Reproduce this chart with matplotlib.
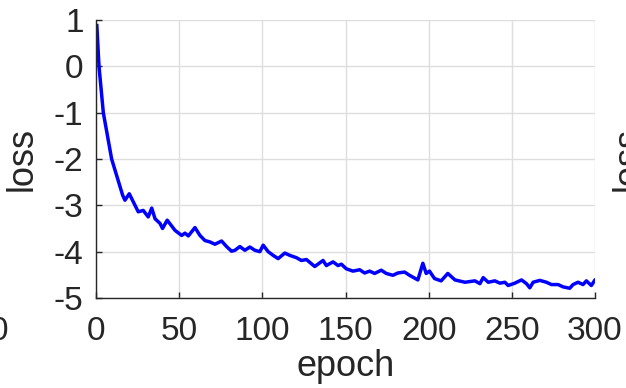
import matplotlib.pyplot as plt

plt.rcParams['font.family'] = ['Liberation Sans', 'DejaVu Sans']
plt.rcParams['axes.unicode_minus'] = False

# loss curve
epoch = [0.5, 1.8, 4.4, 9.4, 16, 17.4, 20, 25.4, 28.4, 31.4, 33.5, 35.5, 38.5,
         40, 42.8, 47.5, 51.5, 53.5, 55.5, 59.5, 62.5, 65.5, 68.5, 71.5, 75.5,
         78.5, 81.5, 83.5, 86.5, 89.5, 92.5, 95.5, 98.5, 100.5, 103.5, 106.5,
         109.5, 113.5, 116.5, 120.5, 123.5, 126.5, 131.5, 136.5, 138.5, 142.5,
         145.5, 147.5, 150.5, 154.5, 158.5, 161.5, 164.5, 167.5, 171.5, 174.5,
         178.5, 181.5, 185.5, 188.5, 193.5, 196.5, 198.5, 200.5, 203.5, 207.5,
         211.5, 215.8, 221.8, 227.8, 230.8, 232.8, 235.8, 239.8, 242.8, 245.8,
         247.8, 251.8, 255.8, 258.8, 260.8, 262.8, 266.8, 270.8, 273.8, 277.8,
         280.8, 284.8, 286.8, 289.8, 292.8, 294.8, 297.8, 299.8]
loss = [0.88, 0.0, -1.0, -2.0, -2.78, -2.89, -2.75, -3.14, -3.11, -3.25, -3.06,
        -3.29, -3.39, -3.5, -3.32, -3.54, -3.65, -3.6, -3.66, -3.48, -3.65,
        -3.76, -3.79, -3.84, -3.77, -3.89, -3.99, -3.97, -3.89, -3.97, -3.9,
        -3.97, -4.0, -3.86, -4.0, -4.08, -4.15, -4.03, -4.08, -4.13, -4.19,
        -4.17, -4.32, -4.19, -4.3, -4.22, -4.3, -4.27, -4.37, -4.42, -4.39,
        -4.46, -4.42, -4.47, -4.4, -4.47, -4.51, -4.46, -4.44, -4.51, -4.61,
        -4.25, -4.47, -4.42, -4.58, -4.63, -4.47, -4.61, -4.66, -4.63, -4.69,
        -4.56, -4.66, -4.63, -4.68, -4.66, -4.73, -4.68, -4.61, -4.69, -4.78,
        -4.66, -4.62, -4.66, -4.71, -4.71, -4.76, -4.79, -4.71, -4.66, -4.71,
        -4.63, -4.73, -4.62]

xticks = [0, 50, 100, 150, 200, 250, 300]
yticks = [-5, -4, -3, -2, -1, 0, 1]

fig = plt.figure(figsize=(6.26, 3.88), dpi=100)
ax = fig.add_axes([96/626, 1-298/388, 499/626, 278/388])

ax.plot(epoch, loss, color='#0000ff', linewidth=2.5)
ax.set_xlim(0, 300)
ax.set_ylim(-5, 1)
ax.set_xticks(xticks)
ax.set_yticks(yticks)
ax.grid(True, color='#dedede', linewidth=1)
ax.set_axisbelow(True)

# matlab style: box off, grid on
for s in ('top', 'right'):
    ax.spines[s].set_visible(False)
for s in ('left', 'bottom'):
    ax.spines[s].set_color('#262626')
    ax.spines[s].set_linewidth(1)
ax.tick_params(direction='in', length=4, width=1, colors='#262626',
               labelsize=24, labelcolor='#262626')
ax.tick_params(axis='x', pad=13)
ax.tick_params(axis='y', pad=9)

ax.set_xlabel('epoch', fontsize=26, color='#262626')
ax.set_ylabel('loss', fontsize=26, color='#262626')
ax.xaxis.set_label_coords(0.5, -0.185)
ax.yaxis.set_label_coords(-0.112, 0.5)

# bits of neighbouring panels cut by the crop
fig.text(8/626, 1-331/388, '0', fontsize=24, color='#262626',
         ha='right', va='center')
fig.text(611/626, 1-159/388, 'loss', fontsize=26, color='#262626',
         rotation=90, ha='left', va='center')

fig.savefig('out.png', dpi=100)
